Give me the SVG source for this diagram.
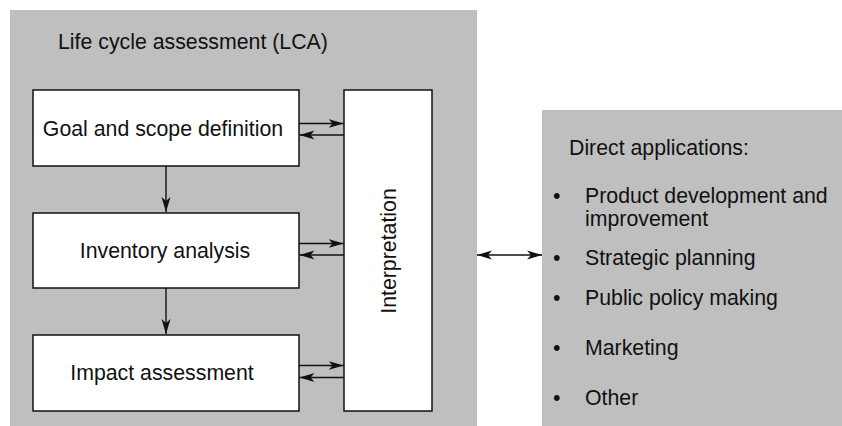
<svg xmlns="http://www.w3.org/2000/svg" width="842" height="426" viewBox="0 0 842 426">
<defs>
<style>
.panel{fill:#bfbfbf;stroke:none}
.box{fill:#fff;stroke:#111;stroke-width:1.5}
.t{font-family:"Liberation Sans",Arial,sans-serif;font-size:21.3px;fill:#111}
.c{text-anchor:middle}
.ln{stroke:#111;stroke-width:1.4;fill:none}
</style>
<marker id="ah" markerUnits="userSpaceOnUse" markerWidth="16" markerHeight="10" refX="15" refY="4.5" orient="auto-start-reverse" viewBox="0 0 16 9">
<path d="M0,0 L15,4.5 L0,9 L4,4.5 Z" fill="#111"/>
</marker>
</defs>
<rect width="842" height="426" fill="#fff"/>
<g id="lca-panel">
<rect class="panel" x="10" y="10" width="467" height="416"/>
<text class="t" x="58" y="49">Life cycle assessment (LCA)</text>
</g>
<g id="apps-panel">
<rect class="panel" x="542" y="110" width="300" height="316"/>
<text class="t" x="569" y="155">Direct applications:</text>
<text class="t"><tspan x="553" y="203">•</tspan><tspan x="585" y="203">Product development and</tspan><tspan x="585" y="226">improvement</tspan></text>
<text class="t"><tspan x="553" y="265">•</tspan><tspan x="585" y="265">Strategic planning</tspan></text>
<text class="t"><tspan x="553" y="305">•</tspan><tspan x="585" y="305">Public policy making</tspan></text>
<text class="t"><tspan x="553" y="355">•</tspan><tspan x="585" y="355">Marketing</tspan></text>
<text class="t"><tspan x="553" y="405">•</tspan><tspan x="585" y="405">Other</tspan></text>
</g>
<g id="goal">
<rect class="box" x="33" y="90" width="266" height="76"/>
<text class="t c" x="163" y="136">Goal and scope definition</text>
</g>
<g id="inventory">
<rect class="box" x="33" y="213" width="266" height="75"/>
<text class="t c" x="165" y="258">Inventory analysis</text>
</g>
<g id="impact">
<rect class="box" x="33" y="335" width="266" height="76"/>
<text class="t c" x="162" y="380">Impact assessment</text>
</g>
<g id="interpretation">
<rect class="box" x="344" y="90" width="88" height="321"/>
<text class="t c" transform="translate(396,251) rotate(-90)">Interpretation</text>
</g>
<g id="connectors">
<line class="ln" x1="166" y1="166" x2="166" y2="212" marker-end="url(#ah)"/>
<line class="ln" x1="166" y1="288" x2="166" y2="334" marker-end="url(#ah)"/>
<line class="ln" x1="299" y1="123.5" x2="343.5" y2="123.5" marker-end="url(#ah)"/>
<line class="ln" x1="344" y1="135" x2="299.5" y2="135" marker-end="url(#ah)"/>
<line class="ln" x1="299" y1="243.5" x2="343.5" y2="243.5" marker-end="url(#ah)"/>
<line class="ln" x1="344" y1="255" x2="299.5" y2="255" marker-end="url(#ah)"/>
<line class="ln" x1="299" y1="365.5" x2="343.5" y2="365.5" marker-end="url(#ah)"/>
<line class="ln" x1="344" y1="377.5" x2="299.5" y2="377.5" marker-end="url(#ah)"/>
<line class="ln" x1="477" y1="255" x2="542" y2="255" marker-start="url(#ah)" marker-end="url(#ah)"/>
</g>
</svg>
